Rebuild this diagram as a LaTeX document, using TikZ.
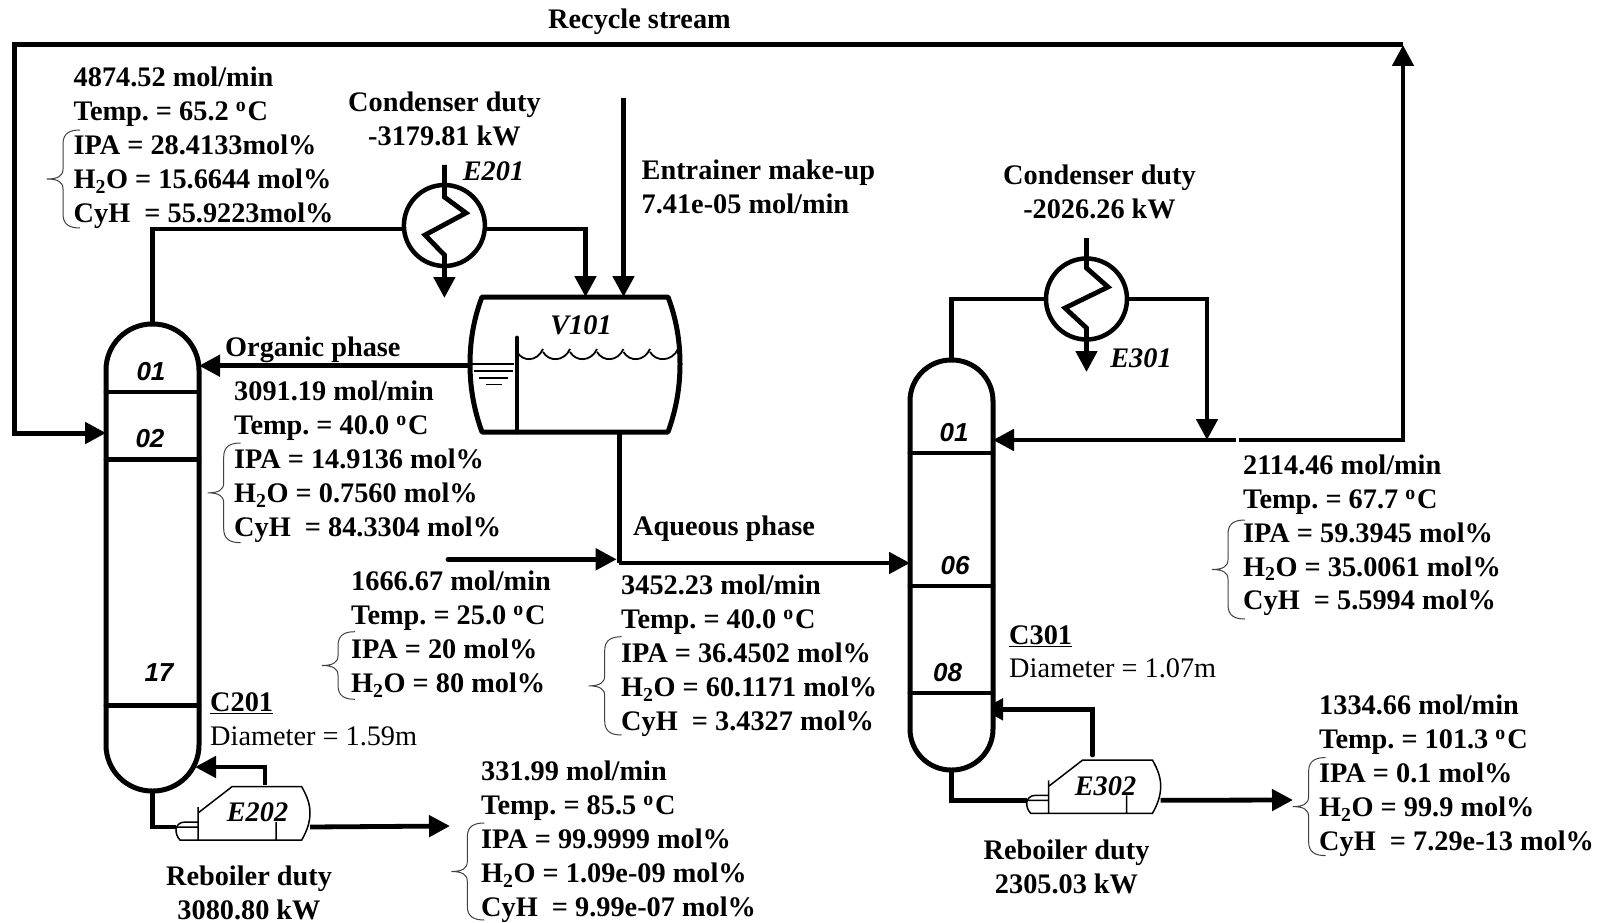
\documentclass[tikz,border=0pt]{standalone}
\usepackage{fontspec}
\setmainfont{Liberation Serif}
\newfontfamily\traysans{Liberation Sans}
\usetikzlibrary{arrows.meta}

\newcommand{\degC}{\textsuperscript{o}\kern1.5pt C}
\newcommand{\water}{H\textsubscript{2}O}

\tikzset{
    reboiler/.pic={
        \draw[shell] (22,-33) -- (22,0)
            (22,-27) -- (56,-53.3) -- (125.7,-53.3)
            .. controls (131,-44) and (134,-36) .. (134,-27)
            .. controls (134,-18) and (131,-9) .. (125.7,0) -- (4,0)
            .. controls (1,-3) and (0,-7) .. (0,-10)
            .. controls (0,-14) and (3,-18) .. (9,-18) -- (22,-18)
            (0.5,-13) -- (22,-13)
            (100,-18) -- (100,0);
        \coordinate (-in) at (0,-13);
        \coordinate (-out) at (134,-13);
    }
}

\begin{document}
\begin{tikzpicture}[
    x=1pt, y=-1pt,
    column/.style={rectangle, draw, line width=5pt, outer sep=0pt, minimum width=93pt, rounded corners=46pt},
    exch/.style={circle, draw, line width=4.5pt, outer sep=0pt, inner sep=0pt, minimum size=81pt},
    drum/.style={rectangle, inner sep=0pt, outer sep=0pt, minimum width=210pt, minimum height=135pt},
    pipe/.style={line width=4.8pt},
    traypipe/.style={pipe, line cap=round},
    arrow/.style={pipe, -{Triangle[length=21pt, width=21pt]}},
    shell/.style={line width=1.5pt},
    thinline/.style={line width=1.6pt},
    comp/.style={line width=1pt, draw=black!75},
    info/.style={anchor=north west, align=left, inner sep=0pt, font=\bfseries\frenchspacing\fontsize{28.3}{33.9}\selectfont},
    duty/.style={anchor=north, align=center, inner sep=0pt, font=\bfseries\frenchspacing\fontsize{28.3}{33.9}\selectfont},
    unit/.style={inner sep=0pt, font=\bfseries\itshape\fontsize{28.3}{34}\selectfont},
    tray/.style={inner sep=0pt, font=\traysans\bfseries\itshape\fontsize{26}{30}\selectfont}
]
    \useasboundingbox (0,0) rectangle (1601,923);

    % columns and drum
    \node[column, minimum height=467pt] (C201) at (152.5,557.5) {};
    \node[column, minimum height=410pt, minimum width=83pt, rounded corners=41pt] (C301) at (951.5,565) {};
    \node[drum] (V101) at (575,364.5) {};
    \foreach \y in {392,459.5,705.5}
        \draw[traypipe] (C201.west |- 0,\y) -- (C201.east |- 0,\y);
    \foreach \y in {453,586,693}
        \draw[traypipe] (C301.west |- 0,\y) -- (C301.east |- 0,\y);

    \node[tray] (tr01) at (151,372) {01};
    \node[tray] (tr02) at (150,439) {02};
    \node[tray] (tr17) at (159,673) {17};
    \node[tray] (ts01) at (954,433) {01};
    \node[tray] (ts06) at (955,566) {06};
    \node[tray] (ts08) at (947.5,673) {08};

    \draw[line width=5pt, line join=round] (482,297) -- (668,297)
        .. controls (676,318) and (680,340) .. (680,364)
        .. controls (680,388) and (676,410) .. (668,432) -- (482,432)
        .. controls (474,410) and (470,388) .. (470,364)
        .. controls (470,340) and (474,318) .. (482,297) -- cycle;
    \draw[pipe, line cap=round] (517,338) -- (517,432);
    \foreach \xa/\xb in {517/543,543/570,570/597,597/623.5,623.5/650,650/678}
        \draw[line width=1.8pt] (\xa,352) .. controls (\xa+6,362) and (\xb-6,362) .. (\xb,349);
    \draw[thinline] (472,364) -- (514,364);
    \draw[thinline] (474,371) -- (513,371);
    \draw[thinline] (479,378) -- (508,378);
    \draw[thinline] (486,384.5) -- (502,384.5);
    \node[unit] (V101name) at (581,325.5) {V101};

    % exchangers
    \node[exch] (E201) at (444.4,225.5) {};
    \node[exch] (E301) at (1086.5,299) {};
    \coordinate (cw1) at (444.4,165);
    \coordinate (cw2) at (1086.5,238);
    \draw[arrow] (cw1) -- (444.4,197) -- (466,213) -- (425,235) -- (444.4,255) -- (444.4,298);
    \draw[arrow] (cw2) -- (1086.5,268) -- (1108,287) -- (1065,308) -- (1086.5,328) -- (1086.5,372);
    \node[unit] (E201name) at (493.5,171.7) {E201};
    \node[unit] (E301name) at (1141,358.5) {E301};

    \pic (E202) at (176,840) {reboiler};
    \pic (E302) at (1026.7,813.3) {reboiler};
    \node[unit] (E202name) at (257.5,812) {E202};
    \node[unit] (E302name) at (1105.5,786) {E302};

    % free ends
    \coordinate (V101in) at (585.5,297);
    \coordinate (makeup) at (623.5,98);
    \coordinate (recycleA) at (1403,440);
    \coordinate (recycleB) at (1403,45);
    \coordinate (recycleC) at (14,45);
    \coordinate (recycleD) at (14,433);
    \coordinate (splitA) at (1236,440);
    \coordinate (splitB) at (1239,440);
    \coordinate (refluxdrop) at (1207,440);
    \coordinate (aqjoin) at (619.3,563);
    \coordinate (feedin) at (448,559.3);
    \coordinate (ret202) at (265,785);
    \coordinate (ret302) at (1092.7,755);
    \coordinate (prod202) at (450,826);
    \coordinate (prod302) at (1293,800);

    % streams
    \draw[pipe] (C201.north) |- ([yshift=-3.5pt]E201.west);
    \draw[arrow] ([yshift=-3.5pt]E201.east) -| (V101in);
    \draw[arrow] (makeup) -- (makeup |- V101.north);
    \draw[arrow] (V101.west |- 0,365.7) -- (C201.east |- 0,365.7);
    \draw[pipe] (aqjoin |- V101.south) -- (aqjoin);
    \draw[arrow] (aqjoin) -- (aqjoin -| C301.west);
    \draw[arrow, line cap=round] (feedin) -- (616.7,559.3);

    \draw[pipe] (C301.north) |- (E301.west);
    \draw[arrow] (E301.east) -| (refluxdrop);
    \draw[arrow] (splitA) -- (C301.east |- splitA);
    \draw[arrow] (splitB) -- (recycleA) -- (recycleB);
    \draw[arrow, line width=5pt] (recycleB) -- (recycleC) -- (recycleD) -- (C201.west |- recycleD);

    \draw[pipe] (C201.south) |- (E202-in);
    \draw[arrow] (ret202) |- (195,767);
    \draw[arrow] (E202-out) -- (prod202);
    \draw[pipe] (C301.south) |- (E302-in);
    \begin{scope}
        \clip (995,690) rectangle (1110,770);
        \draw[arrow, line cap=round] (ret302) |- (982,709.3);
    \end{scope}
    \draw[arrow] (E302-out) -- (prod302);

    % text
    \node[info] (recyclelabel) at (548,9) {Recycle stream};
    \node[info] (topstream) at (73.5,67) {4874.52 mol/min\\Temp. = 65.2 \degC\\IPA = 28.4133mol\%\\\water{} = 15.6644 mol\%\\CyH\ \ = 55.9223mol\%};
    \node[duty] (qc201) at (444.5,91.5) {Condenser duty\\-3179.81 kW};
    \node[info] (makeuplabel) at (641.5,159.5) {Entrainer make-up\\7.41e-05 mol/min};
    \node[duty] (qc301) at (1099.5,165) {Condenser duty\\-2026.26 kW};
    \node[info] (orglabel) at (225,336.5) {Organic phase};
    \node[info] (orgstream) at (234,381) {3091.19 mol/min\\Temp. = 40.0 \degC\\IPA = 14.9136 mol\%\\\water{} = 0.7560 mol\%\\CyH\ \ = 84.3304 mol\%};
    \node[info] (aqlabel) at (633,516) {Aqueous phase};
    \node[info] (feedstream) at (351,571) {1666.67 mol/min\\Temp. = 25.0 \degC\\IPA = 20 mol\%\\\water{} = 80 mol\%};
    \node[info] (aqstream) at (621,575) {3452.23 mol/min\\Temp. = 40.0 \degC\\IPA = 36.4502 mol\%\\\water{} = 60.1171 mol\%\\CyH\ \ = 3.4327 mol\%};
    \node[info] (recstream) at (1243,454.5) {2114.46 mol/min\\Temp. = 67.7 \degC\\IPA = 59.3945 mol\%\\\water{} = 35.0061 mol\%\\CyH\ \ = 5.5994 mol\%};
    \node[info] (botstreamB) at (1319,695) {1334.66 mol/min\\Temp. = 101.3 \degC\\IPA = 0.1 mol\%\\\water{} = 99.9 mol\%\\CyH\ \ = 7.29e-13 mol\%};
    \node[info] (botstreamA) at (481,761) {331.99 mol/min\\Temp. = 85.5 \degC\\IPA = 99.9999 mol\%\\\water{} = 1.09e-09 mol\%\\CyH\ \ = 9.99e-07 mol\%};
    \node[info] (C201name) at (210,692.2) {\underline{C201}\\\mdseries Diameter = 1.59m};
    \node[info] (C301name) at (1009,625) {\underline{C301}\\\mdseries Diameter = 1.07m};
    \node[duty] (qr202) at (249,865.5) {Reboiler duty\\3080.80 kW};
    \node[duty] (qr302) at (1066.5,839.5) {Reboiler duty\\2305.03 kW};

    % braces
    \foreach \x/\ya/\yb in {80/130/228, 240.7/443/542.7, 355/631.7/699.3, 621.7/636.7/735,
                            1245/520/619, 1325.6/757.6/855.6, 484.3/823/920} {
        \pgfmathsetmacro{\ym}{(\ya+\yb)/2}
        \draw[comp] (\x,\ya) .. controls (\x-10,\ya) and (\x-17,\ya+3) .. (\x-17,\ya+14)
            -- (\x-17,\ym-10) .. controls (\x-17,\ym-3) and (\x-22,\ym) .. (\x-33,\ym)
            .. controls (\x-22,\ym) and (\x-17,\ym+3) .. (\x-17,\ym+10)
            -- (\x-17,\yb-14) .. controls (\x-17,\yb-3) and (\x-10,\yb) .. (\x,\yb);
    }
\end{tikzpicture}
\end{document}
